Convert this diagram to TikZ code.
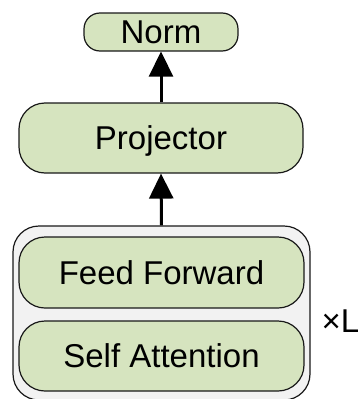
\documentclass[tikz,border=0pt]{standalone}
\usepackage{fontspec}
\setmainfont{Liberation Sans}
\usepackage{tikz}
\usetikzlibrary{arrows.meta}
\definecolor{boxgreen}{HTML}{D6E4BF}
\definecolor{stackgray}{HTML}{F2F2F2}

\tikzset{
    block/.style={draw=black!90, line width=1.2pt, fill=boxgreen, rounded corners=#1,
        inner sep=0pt, text height=23.5pt, text depth=0pt,
        font=\fontsize{33}{40}\selectfont},
    stack/.style={draw=black!90, line width=1.2pt, fill=stackgray, rounded corners=26pt, inner sep=0pt},
    flow/.style={line width=3pt, -{Triangle[length=25pt, width=24pt]}}
}

\begin{document}
\begin{tikzpicture}[x=1pt, y=-1pt]
    \useasboundingbox (0,0) rectangle (360,399);

    \node [stack, minimum width=297pt, minimum height=174pt] (layers) at (161.5,313) {};
    \node [block=26pt, minimum width=285pt, minimum height=71pt] (ffn) at (161.5,272.5) {Feed Forward};
    \node [block=26pt, minimum width=285pt, minimum height=70pt] (attn) at (161.5,356) {Self Attention};
    \node [anchor=base, inner sep=0pt, font=\fontsize{33}{40}\selectfont] (rep) at (340.5,332) {×L};

    \node [block=26pt, minimum width=284pt, minimum height=70pt] (proj) at (161,138) {Projector};
    \node [block=16pt, minimum width=154pt, minimum height=38pt] (norm) at (161,32) {Norm};

    \draw [flow] (layers.north) -- (proj.south);
    \draw [flow] (proj.north) -- (norm.south);
\end{tikzpicture}
\end{document}
